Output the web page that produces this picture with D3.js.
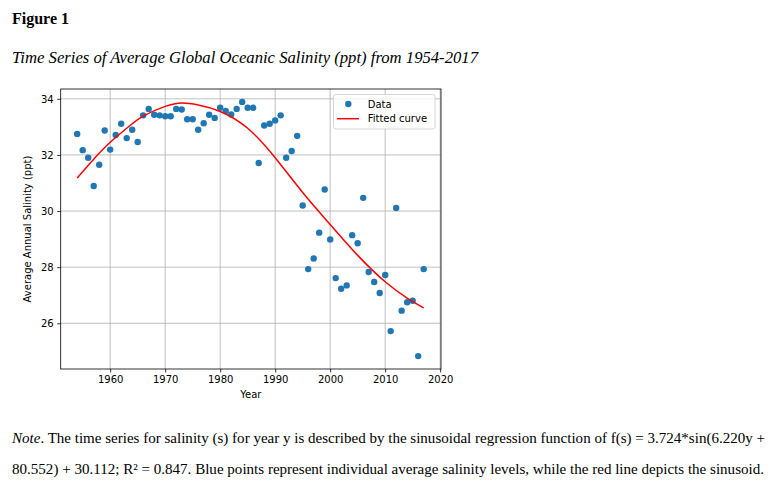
<!DOCTYPE html>
<html><head><meta charset="utf-8">
<script src="https://cdn.jsdelivr.net/npm/d3@7"></script>
<style>body{margin:0;background:#fff}</style>
</head><body><svg id="c" width="778" height="491"></svg>
<script>
const years = [1954,1955,1956,1957,1958,1959,1960,1961,1962,1963,1964,1965,1966,1967,1968,1969,1970,1971,1972,1973,1974,1975,1976,1977,1978,1979,1980,1981,1982,1983,1984,1985,1986,1987,1988,1989,1990,1991,1992,1993,1994,1995,1996,1997,1998,1999,2000,2001,2002,2003,2004,2005,2006,2007,2008,2009,2010,2011,2012,2013,2014,2015,2016,2017];
const salinity = [32.75,32.17,31.90,30.89,31.65,32.87,32.19,32.71,33.11,32.60,32.90,32.46,33.41,33.64,33.43,33.41,33.38,33.38,33.64,33.62,33.27,33.27,32.90,33.13,33.43,33.32,33.68,33.57,33.44,33.64,33.89,33.68,33.68,31.71,33.05,33.11,33.23,33.41,31.90,32.14,32.68,30.20,27.93,28.31,29.23,30.77,28.99,27.61,27.23,27.35,29.14,28.85,30.47,27.83,27.47,27.08,27.72,25.72,30.11,26.45,26.75,26.80,24.83,27.93];
const fitYears = [1954,1957,1960,1963,1966,1970,1973,1976,1980,1985,1990,1995,2000,2005,2010,2014,2017];
const fitValues = [31.18,31.85,32.45,32.95,33.38,33.73,33.85,33.78,33.55,32.95,31.90,30.66,29.52,28.42,27.48,26.90,26.55];
const xTicks = [1960,1970,1980,1990,2000,2010,2020];
const yTicks = [26,28,30,32,34];
const seriesNames = ["Data","Fitted curve"];

const svg = d3.select("#c");
const L=60.7, R=441, T=89, B=369;
const x = d3.scaleLinear().domain([1951,2020.15]).range([L,R]);
const y = d3.scaleLinear().domain([24.37,34.35]).range([B,T]);
const blue="#1f77b4", red="#ff0000";

// header texts
svg.append("text").attr("x",12).attr("y",24).attr("font-family","Liberation Serif")
  .attr("font-weight","bold").attr("font-size",16).text("Figure 1");
svg.append("text").attr("x",12).attr("y",63).attr("font-family","Liberation Serif")
  .attr("font-style","italic").attr("font-size",16)
  .attr("textLength",466).attr("lengthAdjust","spacingAndGlyphs")
  .text("Time Series of Average Global Oceanic Salinity (ppt) from 1954-2017");

// grid
const g = svg.append("g");
g.selectAll("line.gx").data(xTicks).join("line").attr("x1",d=>x(d)).attr("x2",d=>x(d))
  .attr("y1",T).attr("y2",B).attr("stroke","#b0b0b0").attr("stroke-width",0.8);
g.selectAll("line.gy").data(yTicks).join("line").attr("y1",d=>y(d)).attr("y2",d=>y(d))
  .attr("x1",L).attr("x2",R).attr("stroke","#b0b0b0").attr("stroke-width",0.8);

// axes
const xa = svg.append("g").attr("transform",`translate(0,${B})`)
  .call(d3.axisBottom(x).tickValues(xTicks).tickFormat(d3.format("d")).tickSize(3.5).tickPadding(3.5));
const ya = svg.append("g").attr("transform",`translate(${L},0)`)
  .call(d3.axisLeft(y).tickValues(yTicks).tickFormat(d3.format("d")).tickSize(3.5).tickPadding(3.5));
[xa,ya].forEach(a=>{a.select(".domain").remove();
  a.selectAll("text").attr("font-family","DejaVu Sans").attr("font-size",10).attr("fill","#000");
  a.selectAll("line").attr("stroke","#000").attr("stroke-width",0.8);});

// points
svg.append("g").selectAll("circle").data(years).join("circle")
  .attr("cx",(d)=>x(d)).attr("cy",(d,i)=>y(salinity[i])).attr("r",3.2).attr("fill",blue);

// fitted curve
const line = d3.line().x(d=>x(d[0])).y(d=>y(d[1])).curve(d3.curveNatural);
svg.append("path").attr("d",line(fitYears.map((d,i)=>[d,fitValues[i]])))
  .attr("fill","none").attr("stroke",red).attr("stroke-width",1.5);

// frame
svg.append("rect").attr("x",L).attr("y",T).attr("width",R-L).attr("height",B-T)
  .attr("fill","none").attr("stroke","#000").attr("stroke-width",0.8);

// axis labels
svg.append("text").attr("x",(L+R)/2).attr("y",398).attr("text-anchor","middle")
  .attr("font-family","DejaVu Sans").attr("font-size",10).text("Year");
svg.append("text").attr("transform",`translate(31,${(T+B)/2}) rotate(-90)`).attr("text-anchor","middle")
  .attr("font-family","DejaVu Sans").attr("font-size",10).text("Average Annual Salinity (ppt)");

// legend
const lg = svg.append("g");
lg.append("rect").attr("x",333.5).attr("y",94.5).attr("width",101.5).attr("height",34.5).attr("rx",2.5)
  .attr("fill","#fff").attr("fill-opacity",0.8).attr("stroke","#cccccc").attr("stroke-width",0.8);
lg.append("circle").attr("cx",348.3).attr("cy",104).attr("r",3.2).attr("fill",blue);
lg.append("line").attr("x1",337).attr("x2",359).attr("y1",118.7).attr("y2",118.7).attr("stroke",red).attr("stroke-width",1.5);
lg.selectAll("text").data(seriesNames).join("text").attr("x",367.7).attr("y",(d,i)=>107.6+i*14.7)
  .attr("font-family","DejaVu Sans").attr("font-size",10).text(d=>d);

// note
const n1 = svg.append("text").attr("x",12).attr("y",443).attr("font-family","Liberation Serif").attr("font-size",14)
  .attr("textLength",753).attr("lengthAdjust","spacingAndGlyphs");
n1.append("tspan").attr("font-style","italic").text("Note");
n1.append("tspan").text(". The time series for salinity (s) for year y is described by the sinusoidal regression function of f(s) = 3.724*sin(6.220y +");
svg.append("text").attr("x",12).attr("y",474).attr("font-family","Liberation Serif").attr("font-size",14)
  .attr("textLength",752).attr("lengthAdjust","spacingAndGlyphs")
  .text("80.552) + 30.112; R\u00B2 = 0.847. Blue points represent individual average salinity levels, while the red line depicts the sinusoid.");
</script></body></html>
